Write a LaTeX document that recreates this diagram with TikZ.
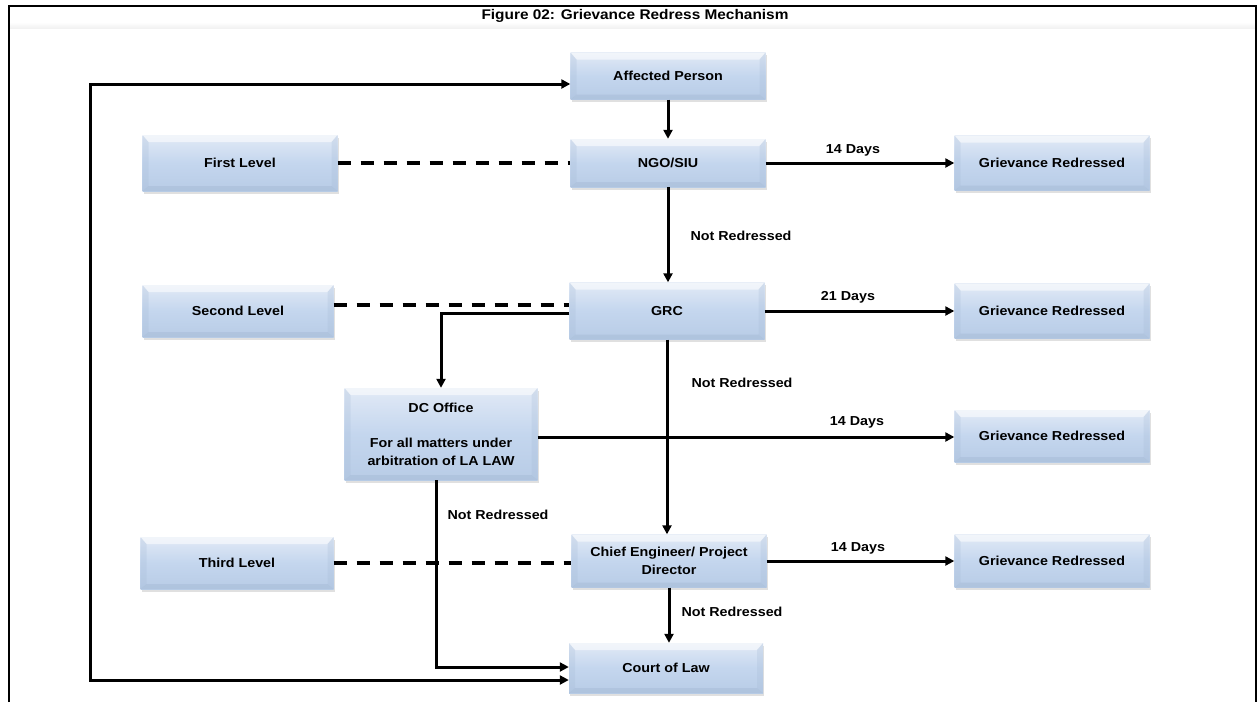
\documentclass[tikz,border=0pt]{standalone}
\usepackage{fontspec}
\newfontfamily\lab[FakeStretch=1.1]{Liberation Sans}
\usetikzlibrary{arrows.meta,shadows,calc}
\definecolor{boxtop}{RGB}{226,234,246}
\definecolor{boxmid}{RGB}{196,214,238}
\definecolor{boxbot}{RGB}{184,204,230}
\definecolor{boxedge}{RGB}{165,186,213}
\tikzset{
  stepbox/.style={draw=none, top color=boxtop, bottom color=boxbot, middle color=boxmid,
    minimum width=195pt, minimum height=52pt, align=center, inner sep=2pt,
    font=\lab\bfseries\fontsize{13}{18}\selectfont,
    drop shadow={opacity=0.35, shadow xshift=1pt, shadow yshift=-2.5pt, fill=gray!70},
    path picture={
      \fill[white,opacity=0.55] (path picture bounding box.north west) -- (path picture bounding box.north east)
        -- ([xshift=-6pt,yshift=-7pt]path picture bounding box.north east) -- ([xshift=6pt,yshift=-7pt]path picture bounding box.north west) -- cycle;
      \fill[boxedge,opacity=0.45] (path picture bounding box.south west) -- (path picture bounding box.south east)
        -- ([xshift=-6pt,yshift=5pt]path picture bounding box.south east) -- ([xshift=6pt,yshift=5pt]path picture bounding box.south west) -- cycle;
      \fill[boxedge,opacity=0.25] (path picture bounding box.north west) -- ([xshift=6pt,yshift=-7pt]path picture bounding box.north west)
        -- ([xshift=6pt,yshift=5pt]path picture bounding box.south west) -- (path picture bounding box.south west) -- cycle;
      \fill[boxedge,opacity=0.25] (path picture bounding box.north east) -- ([xshift=-6pt,yshift=-7pt]path picture bounding box.north east)
        -- ([xshift=-6pt,yshift=5pt]path picture bounding box.south east) -- (path picture bounding box.south east) -- cycle;
    }},
  tip/.style={Triangle[length=9pt,width=9pt]},
  conn/.style={line width=3pt, -{Triangle[length=9pt,width=9pt]}},
  lvl/.style={line width=3.2pt, dash pattern=on 13pt off 10pt},
  lbl/.style={font=\lab\bfseries\fontsize{13}{15}\selectfont, inner sep=1pt},
  ttl/.style={font=\lab\bfseries\fontsize{14}{16}\selectfont, inner sep=1pt},
}
\begin{document}
\begin{tikzpicture}[x=1pt,y=-1pt]
\useasboundingbox (0,0) rectangle (1259,702);
% frame
\shade[top color=white, bottom color=gray!12] (10,22) rectangle (1255,29);
\fill[white] (10,29) rectangle (1255,34);
\draw[line width=2pt] (9,702) -- (9,6) -- (1256,6) -- (1256,702);
\node[ttl] (title) at (635,16) {Figure 02: Grievance Redress Mechanism};
% main column
\node[stepbox, minimum height=47pt] (ap) at (668,76) {Affected Person};
\node[stepbox, minimum height=48pt] (ngo) at (668,163) {NGO/SIU};
\node[stepbox, minimum height=57pt] (grc) at (667,311) {GRC};
\node[stepbox, minimum height=53pt] (chief) at (669,561) {Chief Engineer/ Project\\Director};
\node[stepbox, minimum height=50pt, minimum width=194pt] (court) at (666,668) {Court of Law};
% levels
\node[stepbox, minimum height=56pt] (first) at (240,163) {First Level};
\node[stepbox, minimum height=52pt, minimum width=191pt] (second) at (238,311) {Second Level};
\node[stepbox, minimum height=52pt, minimum width=193pt] (third) at (237,563) {Third Level};
% DC
\node[stepbox, minimum height=92pt, minimum width=193pt] (dc) at (441,434) {DC Office\\[17pt]For all matters under\\arbitration of LA LAW};
% redressed
\node[stepbox, minimum height=55pt] (g1) at (1052,163) {Grievance Redressed};
\node[stepbox, minimum height=55pt] (g2) at (1052,311) {Grievance Redressed};
\node[stepbox, minimum height=52pt] (g3) at (1052,436) {Grievance Redressed};
\node[stepbox, minimum height=53pt] (g4) at (1052,561) {Grievance Redressed};
% level dashed links
\draw[lvl] (first.east) -- (first.east -| ngo.west);
\draw[lvl] ([yshift=6pt]second.east) -- ([yshift=6pt]second.east -| grc.west);
\draw[lvl] (third.east) -- (third.east -| chief.west);
% vertical flow
\draw[conn] (ap.south) -- (ngo.north);
\draw[conn] (ngo.south) -- (ngo.south |- grc.north);
\node[lbl] (nr1) at (741,236) {Not Redressed};
\draw[conn] (grc.south) -- (grc.south |- chief.north);
\node[lbl] (nr2) at (742,383) {Not Redressed};
\draw[conn] (chief.south) -- (chief.south |- court.north);
\node[lbl] (nr3) at (732,612) {Not Redressed};
% to redressed
\draw[conn] (ngo.east) -- (g1.west);
\node[lbl] (d1) at (853,150) {14 Days};
\draw[conn] (grc.east) -- (g2.west);
\node[lbl] (d2) at (848,297) {21 Days};
\draw[conn] ([yshift=-3pt]dc.east) -- ([yshift=-3pt]dc.east -| g3.west);
\node[lbl] (d3) at (857,422) {14 Days};
\draw[conn] (chief.east) -- (g4.west);
\node[lbl] (d4) at (858,548) {14 Days};
% GRC to DC
\draw[conn] ([yshift=-2pt]grc.west) -| (dc.north);
% DC to court
\draw[conn] ([xshift=-5pt]dc.south) |- ([yshift=1pt]court.west);
\node[lbl] (nr4) at (498,515) {Not Redressed};
% feedback loop
\coordinate (lt) at (90,84);
\draw[line width=3pt, {Triangle[length=9pt,width=9pt]}-{Triangle[length=9pt,width=9pt]}] ([yshift=-12pt]court.west) -| (lt) -- (lt -| ap.west);
\end{tikzpicture}
\end{document}
